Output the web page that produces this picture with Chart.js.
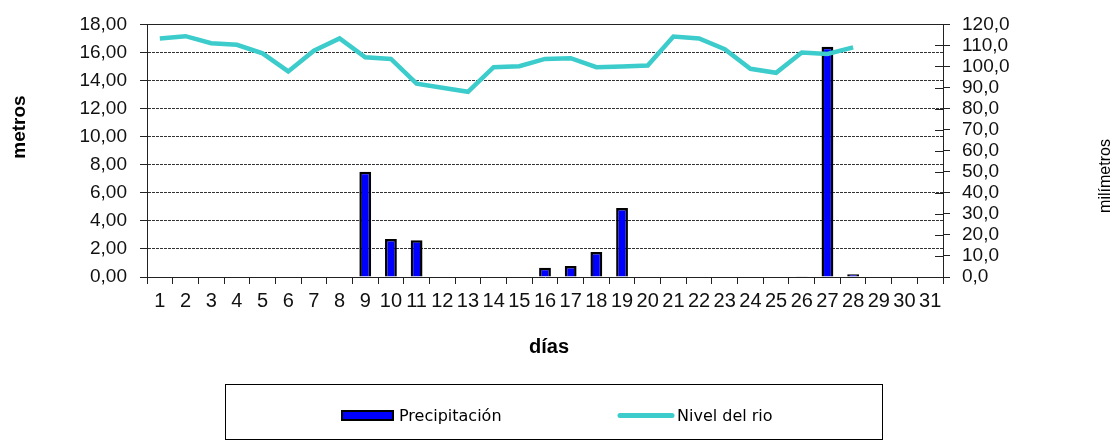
<!DOCTYPE html>
<html lang="es">
<head>
  <meta charset="UTF-8">
  <title>Nivel del rio y precipitación</title>
  <style>
    body {
      margin: 0;
      background: #ffffff;
    }
    canvas {
      display: block;
    }
  </style>
</head>
<body>
  <canvas id="grafico" width="1117" height="441"></canvas>

  <script src="https://cdn.jsdelivr.net/npm/chart.js@4"></script>
  <script>
    const dias = ['1', '2', '3', '4', '5', '6', '7', '8', '9', '10', '11', '12', '13', '14', '15', '16',
                  '17', '18', '19', '20', '21', '22', '23', '24', '25', '26', '27', '28', '29', '30', '31'];
    // milímetros (eje derecho)
    const precipitacion = [0, 0, 0, 0, 0, 0, 0, 0, 50.0, 18.1, 17.5, 0, 0, 0, 0, 4.4,
                           5.2, 11.9, 32.8, 0, 0, 0, 0, 0, 0, 0.3, 109.4, 1.3, null, null, null];
    // metros (eje izquierdo)
    const nivelRio = [17.0, 17.16, 16.66, 16.55, 15.94, 14.65, 16.12, 17.0, 15.66, 15.54, 13.78, 13.48, 13.2, 14.95, 15.02, 15.54,
                      15.59, 14.95, 15.0, 15.07, 17.13, 17.0, 16.24, 14.84, 14.55, 16.0, 15.89, 16.36, null, null, null];
    const metrosMax = 18, metrosPaso = 2;
    const mmMax = 120, mmPaso = 10;

    const azul = '#0000ff';
    const turquesa = '#3ccccc';
    const fuente = '"Liberation Sans", Arial, sans-serif';

    // titulos de ejes, borde superior, marcas cruzadas y leyenda con recuadro (estilo Excel)
    const adornos = {
      id: 'adornos',
      afterDraw(chart) {
        const ctx = chart.ctx;
        const area = chart.chartArea;
        ctx.save();

        ctx.strokeStyle = '#222';
        ctx.lineWidth = 1;
        ctx.beginPath();
        ctx.moveTo(area.left, Math.round(area.top) + 0.5);
        ctx.lineTo(area.right, Math.round(area.top) + 0.5);
        // parte interior de las marcas del eje derecho
        const y1 = chart.scales.y1;
        y1.ticks.forEach(t => {
          const py = Math.round(y1.getPixelForValue(t.value)) + 0.5;
          ctx.moveTo(area.right - 8, py);
          ctx.lineTo(area.right, py);
        });
        ctx.stroke();

        ctx.fillStyle = '#000';
        ctx.textAlign = 'center';
        ctx.textBaseline = 'middle';

        ctx.font = 'bold 19px ' + fuente;
        ctx.save();
        ctx.translate(20, 127);
        ctx.rotate(-Math.PI / 2);
        ctx.fillText('metros', 0, 0);
        ctx.restore();

        ctx.font = 'bold 20px ' + fuente;
        ctx.fillText('días', 549, 347);

        ctx.font = '16px ' + fuente;
        ctx.save();
        ctx.translate(1106, 176);
        ctx.rotate(-Math.PI / 2);
        ctx.fillText('milímetros', 0, 0);
        ctx.restore();

        // leyenda
        const ds = chart.data.datasets;
        ctx.strokeStyle = '#000';
        ctx.lineWidth = 1;
        ctx.strokeRect(225.5, 384.5, 657, 55);

        ctx.fillStyle = ds[1].backgroundColor;
        ctx.fillRect(342, 411, 51, 9);
        ctx.strokeStyle = ds[1].borderColor;
        ctx.lineWidth = 2;
        ctx.strokeRect(342, 411, 51, 9);

        ctx.strokeStyle = ds[0].borderColor;
        ctx.lineWidth = 5;
        ctx.lineCap = 'round';
        ctx.beginPath();
        ctx.moveTo(620, 415.5);
        ctx.lineTo(672, 415.5);
        ctx.stroke();

        ctx.fillStyle = '#000';
        ctx.textAlign = 'left';
        ctx.textBaseline = 'alphabetic';
        ctx.font = '16px "DejaVu Sans", sans-serif';
        ctx.fillText(ds[1].label, 399, 420.5);
        ctx.fillText(ds[0].label, 677, 420.5);

        ctx.restore();
      }
    };

    const chart = new Chart(document.getElementById('grafico'), {
      data: {
        labels: dias,
        datasets: [
          {
            type: 'line',
            label: 'Nivel del rio',
            data: nivelRio,
            yAxisID: 'y',
            borderColor: turquesa,
            backgroundColor: turquesa,
            borderWidth: 4.5,
            pointRadius: 0,
            tension: 0,
            order: 0
          },
          {
            type: 'bar',
            label: 'Precipitación',
            data: precipitacion,
            yAxisID: 'y1',
            backgroundColor: azul,
            borderColor: '#000',
            borderWidth: 2.5,
            borderSkipped: 'start',
            categoryPercentage: 1,
            barPercentage: 0.46,
            order: 1
          }
        ]
      },
      options: {
        responsive: false,
        animation: false,
        layout: { padding: { top: 20, left: 0, right: 0, bottom: 0 } },
        plugins: {
          legend: { display: false },
          tooltip: { enabled: false }
        },
        scales: {
          x: {
            type: 'category',
            offset: true,
            grid: {
              offset: true,
              drawOnChartArea: false,
              tickLength: 7,
              tickColor: '#222'
            },
            border: { color: '#222', width: 1 },
            ticks: {
              autoSkip: false,
              maxRotation: 0,
              padding: 5,
              color: '#111',
              font: { family: fuente, size: 20 }
            },
            afterFit(scale) { scale.height = 164; }
          },
          y: {
            position: 'left',
            min: 0,
            max: metrosMax,
            ticks: {
              stepSize: metrosPaso,
              autoSkip: false,
              padding: 13,
              color: '#111',
              font: { family: fuente, size: 19 },
              callback: v => v.toFixed(2).replace('.', ',')
            },
            grid: {
              color: c => (c.tick && (c.tick.value === 0 || c.tick.value === metrosMax)) ? 'rgba(0,0,0,0)' : '#333',
              lineWidth: 1,
              tickLength: 7,
              tickColor: '#222'
            },
            border: { color: '#222', width: 1, dash: [3, 1] },
            afterFit(scale) { scale.width = 147; }
          },
          y1: {
            position: 'right',
            min: 0,
            max: mmMax,
            ticks: {
              stepSize: mmPaso,
              autoSkip: false,
              padding: 12,
              color: '#111',
              font: { family: fuente, size: 19 },
              callback: v => v.toFixed(1).replace('.', ',')
            },
            grid: {
              drawOnChartArea: false,
              tickLength: 7,
              tickColor: '#222'
            },
            border: { color: '#222', width: 1 },
            afterFit(scale) { scale.width = 1117 - 943; }
          }
        }
      },
      plugins: [adornos]
    });
  </script>
</body>
</html>
